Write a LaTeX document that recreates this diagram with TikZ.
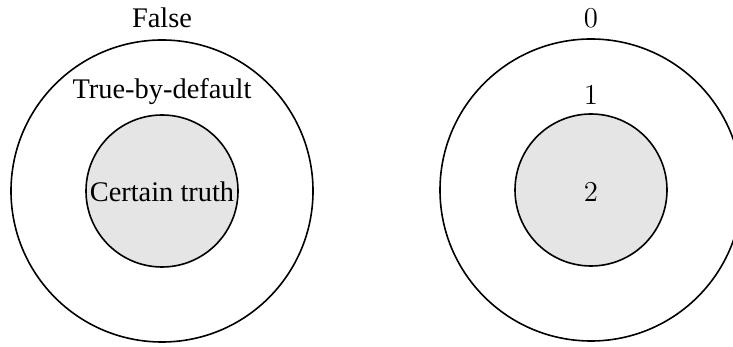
\documentclass[tikz,border=0pt]{standalone}
\usepackage{fontspec}
\setmainfont{Liberation Serif}
\usetikzlibrary{positioning}

\tikzset{
	ring/.style={black, line width=0.8pt},
	core/.style={black, line width=0.8pt, fill=gray!20},
	lbl/.style={anchor=base, inner sep=0pt, font=\fontsize{14.2pt}{17pt}\selectfont},
	num/.style={anchor=base, inner sep=0pt, font=\fontsize{14.4pt}{17pt}\selectfont}
}

\begin{document}
\begin{tikzpicture}[x=0.5pt, y=0.5pt]
	\useasboundingbox (0,0) rectangle (733,347);
	\coordinate (cl) at (162,156);
	\coordinate (cr) at (591,157);
	% left rings
	\draw[ring] (cl) circle (151);
	\filldraw[core] (cl) circle (76);
	\node[lbl] (false) at (162,319) {False};
	\node[lbl] (default) at (162,248) {True-by-default};
	\node[lbl] (certain) at (162,145) {Certain truth};
	% right rings
	\draw[ring] (cr) circle (151);
	\filldraw[core] (cr) circle (76);
	\node[num] (zero) at (591,319) {$0$};
	\node[num] (one) at (591,242) {$1$};
	\node[num] (two) at (591,145) {$2$};
\end{tikzpicture}
\end{document}
